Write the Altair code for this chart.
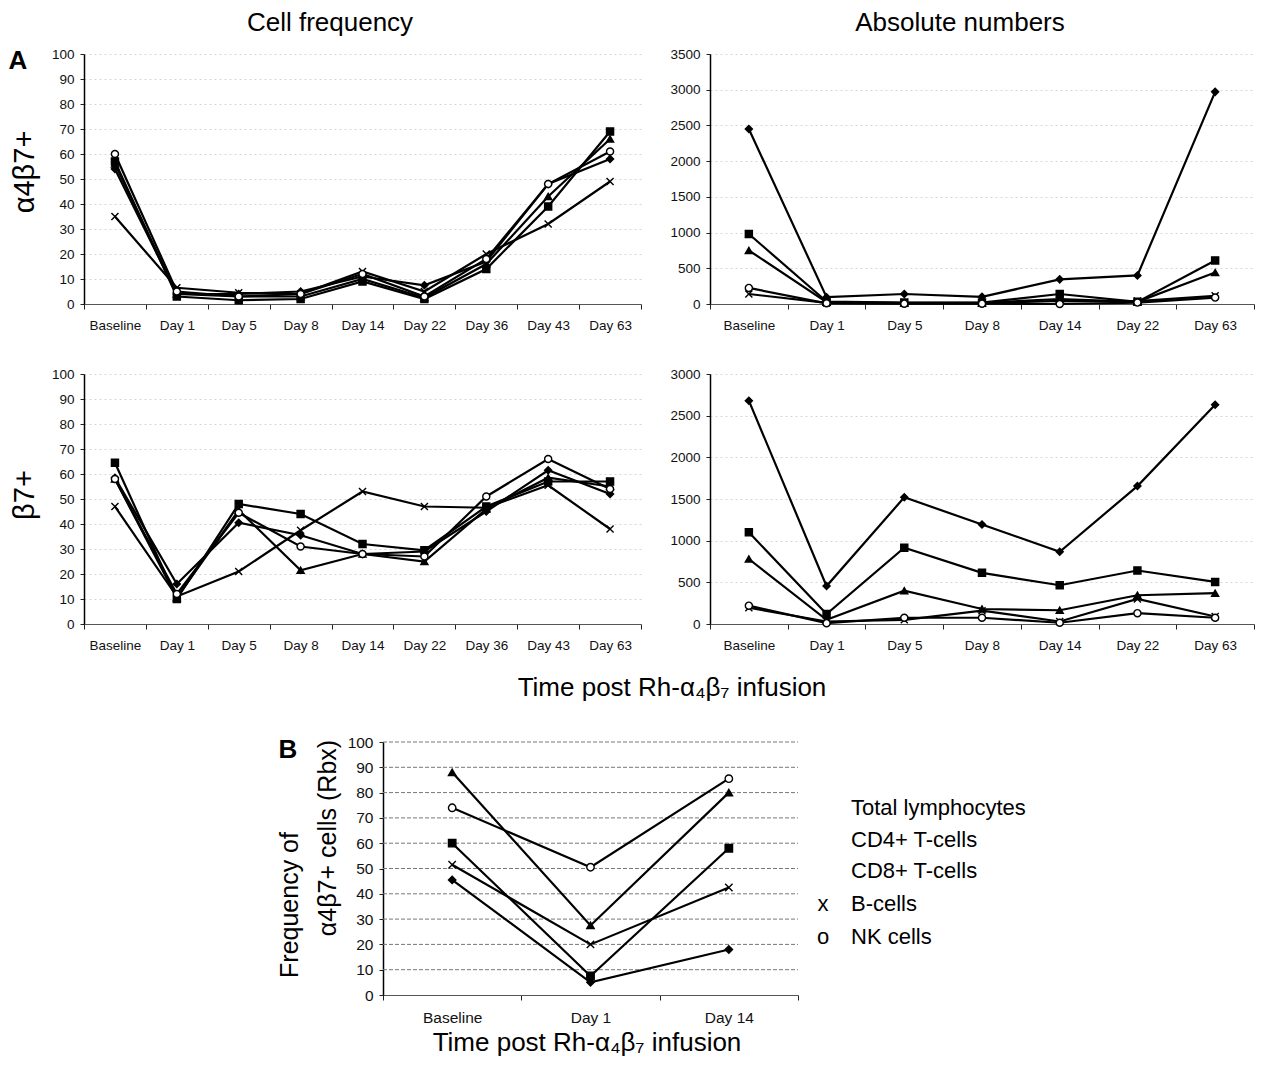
import altair as alt
import pandas as pd

FONT = "Liberation Sans, Arial, Helvetica, sans-serif"

SERIES = ["Total lymphocytes", "CD4+ T-cells", "CD8+ T-cells", "B-cells", "NK cells"]
X_PATH = "M-1,-1L1,1M-1,1L1,-1"
SHAPES = ["diamond", "square", "triangle-up", X_PATH, "circle"]
FILLS = ["black", "black", "black", "black", "white"]

# ---- Panel A, alpha4beta7+ cell frequency ----
FREQ_DAYS = ["Baseline", "Day 1", "Day 5", "Day 8", "Day 14", "Day 22", "Day 36", "Day 43", "Day 63"]
A47_FREQ_TOTAL = [54, 4, 4, 5, 11, 7.5, 17, 48, 58]
A47_FREQ_CD4 = [57, 3, 1.5, 2, 9, 2, 14, 39, 69]
A47_FREQ_CD8 = [56, 4, 3, 3, 10, 2.5, 16, 43, 66]
A47_FREQ_B = [35, 6.5, 4.5, 4, 13, 5, 20, 32, 49]
A47_FREQ_NK = [60, 5, 3, 4, 12, 3, 18, 48, 61]

# ---- Panel A, alpha4beta7+ absolute numbers ----
ABS_DAYS = ["Baseline", "Day 1", "Day 5", "Day 8", "Day 14", "Day 22", "Day 63"]
A47_ABS_TOTAL = [2450, 95, 140, 100, 345, 400, 2970]
A47_ABS_CD4 = [980, 35, 20, 20, 140, 30, 610]
A47_ABS_CD8 = [750, 25, 15, 15, 70, 30, 440]
A47_ABS_B = [140, 15, 10, 10, 45, 40, 115]
A47_ABS_NK = [225, 10, 5, 5, 0, 20, 90]

# ---- Panel A, beta7+ cell frequency ----
B7_FREQ_TOTAL = [58.5, 16, 40.5, 35.5, 28, 29, 45, 61.5, 52]
B7_FREQ_CD4 = [64.5, 10, 48, 44, 32, 29.5, 47, 57, 57]
B7_FREQ_CD8 = [58, 10.5, 45.5, 21.5, 28, 25, 46, 58.5, 55]
B7_FREQ_B = [47, 11, 21, 37.5, 53, 47, 46.5, 55.5, 38]
B7_FREQ_NK = [58, 12, 44.5, 31, 28, 27, 51, 66, 54]

# ---- Panel A, beta7+ absolute numbers ----
B7_ABS_TOTAL = [2680, 455, 1520, 1195, 866, 1655, 2630]
B7_ABS_CD4 = [1100, 120, 915, 614, 465, 642, 505]
B7_ABS_CD8 = [780, 50, 400, 180, 165, 345, 370]
B7_ABS_B = [195, 30, 50, 160, 30, 300, 90]
B7_ABS_NK = [220, 10, 75, 75, 15, 130, 75]

# ---- Panel B, Rbx frequency ----
RBX_DAYS = ["Baseline", "Day 1", "Day 14"]
RBX_TOTAL = [45.5, 5, 18]
RBX_CD4 = [60, 7.5, 58]
RBX_CD8 = [88, 27.5, 80]
RBX_B = [51.5, 20, 42.5]
RBX_NK = [74, 50.5, 85.5]

# ---- texts ----
COL_TITLES = ["Cell frequency", "Absolute numbers"]
ROW_TITLES = ["\u03b14\u03b27+", "\u03b27+"]
PANEL_LETTERS = ["A", "B"]
X_TITLE = "Time post Rh-\u03b1\u2084\u03b2\u2087 infusion"
B_Y_TITLE = ["Frequency of", "\u03b14\u03b27+ cells (Rbx)"]
LEGEND_SYMBOLS = ["", "", "", "x", "o"]


def long_df(days, cols):
    rows = []
    for s, vals in zip(SERIES, cols):
        for i, (d, v) in enumerate(zip(days, vals)):
            rows.append({"series": s, "day": d, "value": v, "idx": i})
    return pd.DataFrame(rows)


def label(text, x, y, size, weight="normal", angle=0, align="center", baseline="middle"):
    return alt.Chart(pd.DataFrame({"t": [text]})).mark_text(
        fontSize=size, fontWeight=weight, angle=angle, align=align,
        baseline=baseline, font=FONT, color="black"
    ).encode(x=alt.value(x), y=alt.value(y), text="t:N")


def panel(df, days, ymax, ystep, w, h, fs, msize, extras, label_pad_x=9,
          xrange=None, yrange=None, yoffset=0, axis_grid=True, rule_span=None,
          lw=2.2):
    yvals = list(range(0, ymax + 1, ystep))
    xs = dict(type="band", domain=days, paddingInner=0, paddingOuter=0)
    if xrange:
        xs["range"] = xrange
    ys = dict(domain=[0, ymax], nice=False)
    if yrange:
        ys["range"] = yrange
    X = alt.X("day:N", sort=days, scale=alt.Scale(**xs),
              axis=alt.Axis(title=None, labelAngle=0, tickBand="extent", tickSize=5,
                            tickColor="#222", domainColor="#555", domainWidth=1.2,
                            labelFontSize=fs, labelColor="#111", labelFont=FONT,
                            labelPadding=label_pad_x, grid=False))
    yax = dict(title=None, values=yvals, format="d", tickSize=4, tickColor="#222",
               domainColor="black", domainWidth=1.5, labelFontSize=fs,
               labelColor="#111", labelFont=FONT, labelPadding=6,
               grid=axis_grid, gridColor="#d6d6d6", gridDash=[2, 3], gridWidth=1)
    if yoffset:
        yax["offset"] = yoffset
    Y = alt.Y("value:Q", scale=alt.Scale(**ys), axis=alt.Axis(**yax))
    base = alt.Chart(df)
    layers = []
    if rule_span:
        layers.append(
            alt.Chart(pd.DataFrame({"value": yvals[1:]})).mark_rule(
                color="#777", strokeDash=[4, 2], strokeWidth=1
            ).encode(y=Y, x=alt.value(rule_span[0]), x2=alt.value(rule_span[1]))
        )
    layers.append(base.mark_line(color="black", strokeWidth=lw).encode(
        x=X, y=Y, detail="series:N", order="idx:Q"))
    layers.append(base.mark_point(filled=True, opacity=1, stroke="black",
                                  strokeWidth=1.4, size=msize).encode(
        x=X, y=Y,
        shape=alt.Shape("series:N", scale=alt.Scale(domain=SERIES, range=SHAPES), legend=None),
        fill=alt.Fill("series:N", scale=alt.Scale(domain=SERIES, range=FILLS), legend=None)))
    return alt.layer(*layers, *extras).properties(width=w, height=h)


tl = panel(long_df(FREQ_DAYS, [A47_FREQ_TOTAL, A47_FREQ_CD4, A47_FREQ_CD8, A47_FREQ_B, A47_FREQ_NK]),
           FREQ_DAYS, 100, 10, 557, 250, 13.5, 50,
           [label(PANEL_LETTERS[0], -66, 7, 26, weight="bold"),
            label(COL_TITLES[0], 246, -31, 26),
            label(ROW_TITLES[0], -59, 118, 29, angle=270)])

tr = panel(long_df(ABS_DAYS, [A47_ABS_TOTAL, A47_ABS_CD4, A47_ABS_CD8, A47_ABS_B, A47_ABS_NK]),
           ABS_DAYS, 3500, 500, 544, 250, 13.5, 50,
           [label(COL_TITLES[1], 250, -31, 26)])

bl = panel(long_df(FREQ_DAYS, [B7_FREQ_TOTAL, B7_FREQ_CD4, B7_FREQ_CD8, B7_FREQ_B, B7_FREQ_NK]),
           FREQ_DAYS, 100, 10, 557, 250, 13.5, 50,
           [label(ROW_TITLES[1], -59, 121, 29, angle=270),
            label(X_TITLE, 588, 314, 26)])

br = panel(long_df(ABS_DAYS, [B7_ABS_TOTAL, B7_ABS_CD4, B7_ABS_CD8, B7_ABS_B, B7_ABS_NK]),
           ABS_DAYS, 3000, 500, 544, 250, 13.5, 50, [])

legend_layers = []
legend_y = [114, 146, 177, 210, 243]
for s, sym, yy in zip(SERIES, LEGEND_SYMBOLS, legend_y):
    legend_layers.append(label(s, 767, yy, 22, align="left"))
    if sym:
        legend_layers.append(label(sym, 739, yy, 22))

b = panel(long_df(RBX_DAYS, [RBX_TOTAL, RBX_CD4, RBX_CD8, RBX_B, RBX_NK]),
          RBX_DAYS, 100, 10, 557, 301, 15.5, 55,
          [label(PANEL_LETTERS[1], 204, 56, 26, weight="bold"),
           label(B_Y_TITLE[0], 206, 211, 25, angle=270),
           label(B_Y_TITLE[1], 244, 144, 25, angle=270),
           label(X_TITLE, 503, 349, 26)] + legend_layers,
          label_pad_x=10, xrange=[299, 714], yrange=[301, 48], yoffset=-299,
          axis_grid=False, rule_span=[299, 714])

chart = alt.concat(tl, tr, bl, br, b, columns=2,
                   spacing={"row": 70, "column": 69}).properties(
    bounds="flush", padding={"left": 0, "top": 2, "right": 0, "bottom": 0}
).configure(font=FONT).configure_view(stroke=None, strokeWidth=0)

chart.save("out.html", embed_options={"renderer": "svg", "actions": False})
